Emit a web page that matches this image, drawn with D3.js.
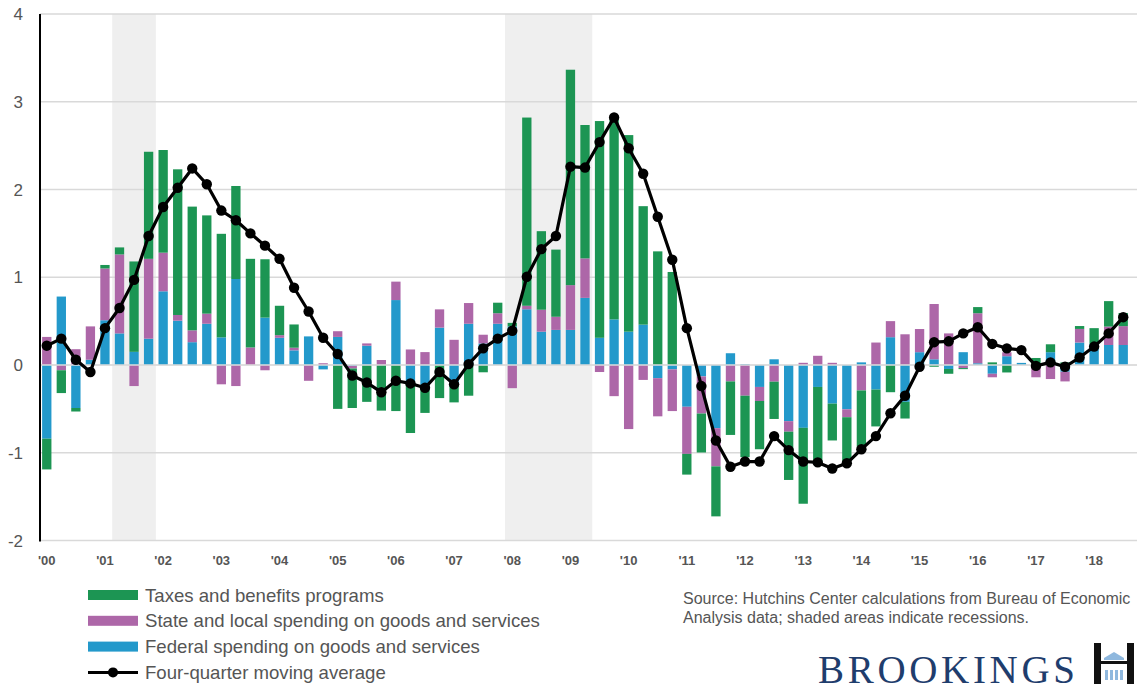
<!DOCTYPE html>
<meta charset="utf-8">
<style>
  body { margin: 0; background: #fff; }
  text { font-family: "Liberation Sans", Arial, sans-serif; }
</style>
<body>
<svg id="chart" width="1137" height="684"></svg>
</body>
<script src="https://d3js.org/d3.v7.min.js"></script>
<script>
// quarterly contributions, 2000Q1 .. 2018Q3
var years = d3.range(2000, 2019);
var quarters = [];
years.forEach(function(y){ [1,2,3,4].forEach(function(q){ if (!(y == 2018 && q == 4)) quarters.push(y + "Q" + q); }); });

var federal = [
  -0.84, 0.78, -0.49, 0.06,   0.51, 0.36, 0.15, 0.30,   0.84, 0.505, 0.26, 0.47,
  0.315, 0.98, 0.00, 0.54,    0.31, 0.167, 0.326, -0.05, 0.32, -0.01, 0.22, 0.00,
  0.74, -0.19, -0.226, 0.426, -0.20, 0.47, 0.245, 0.47,  0.44, 0.635, 0.38, 0.40,
  0.40, 0.765, 0.31, 0.52,    0.38, 0.46, -0.15, -0.05,  -0.476, -0.13, -0.72, 0.134,
  0.01, -0.25, 0.065, -0.64,  -0.716, -0.25, -0.44, -0.505, 0.03, -0.28, 0.317, -0.42,
  0.146, 0.065, -0.045, 0.146, 0.02, -0.10, 0.10, 0.024,  0.00, 0.146, -0.077, 0.256,
  0.24, 0.228, 0.228
];
var stateLocal = [
  0.32, -0.06, 0.18, 0.38,    0.59, 0.90, -0.24, 0.91,   0.44, 0.065, 0.135, 0.115,
  -0.22, -0.24, 0.20, -0.06,  0.03, 0.03, -0.18, 0.02,   0.065, -0.03, 0.026, 0.057,
  0.21, 0.177, 0.147, 0.208,  0.287, 0.236, 0.10, 0.12,  -0.264, 0.04, 0.25, 0.15,
  0.51, 0.45, -0.08, -0.355,  -0.73, -0.17, -0.435, -0.475, -0.537, -0.423, -0.435, -0.187,
  -0.35, -0.16, -0.19, -0.12, 0.025, 0.105, 0.025, -0.09, -0.29, 0.256, 0.183, 0.35,
  0.264, 0.63, 0.36, -0.035,  0.57, -0.04, 0.045, 0.00,  -0.14, -0.16, -0.11, 0.155,
  0.00, 0.21, 0.215
];
var taxes = [
  -0.35, -0.26, -0.04, 0.00,  0.04, 0.08, 1.03, 1.22,    1.17, 1.66, 1.41, 1.12,
  1.18, 1.06, 1.01, 0.665,    0.335, 0.265, 0.00, 0.00,  -0.50, -0.45, -0.42, -0.52,
  -0.525, -0.585, -0.32, -0.377, -0.226, -0.35, -0.083, 0.12, 0.04, 2.145, 0.895, 0.765,
  2.455, 1.52, 2.47, 2.28,    2.24, 1.35, 1.295, 1.06,   -0.236, -0.444, -0.57, -0.61,
  -0.70, -0.55, -0.425, -0.55, -0.865, -0.875, -0.42, -0.50, -0.64, -0.42, -0.31, -0.19,
  0.00, -0.02, -0.055, -0.012, 0.07, 0.03, -0.085, 0.00,  0.08, 0.09, 0.03, 0.033,
  0.18, 0.29, 0.15
];
var movingAvg = [
  0.22, 0.30, 0.06, -0.08,    0.42, 0.65, 0.97, 1.47,    1.80, 2.02, 2.24, 2.06,
  1.76, 1.65, 1.50, 1.36,     1.21, 0.88, 0.61, 0.31,    0.125, -0.12, -0.20, -0.31,
  -0.18, -0.21, -0.26, -0.08, -0.22, 0.01, 0.19, 0.30,   0.39, 1.005, 1.32, 1.47,
  2.26, 2.25, 2.54, 2.82,     2.47, 2.18, 1.69, 1.20,    0.42, -0.24, -0.86, -1.16,
  -1.10, -1.10, -0.81, -0.97, -1.10, -1.11, -1.18, -1.12, -0.96, -0.81, -0.55, -0.35,
  -0.02, 0.26, 0.27, 0.36,    0.43, 0.24, 0.19, 0.17,    -0.01, 0.03, -0.02, 0.085,
  0.21, 0.36, 0.545
];

// recessions as [first quarter, last quarter]
var recessions = [["2001Q2", "2001Q4"], ["2008Q1", "2009Q2"]];
var yTicks = [-2, -1, 0, 1, 2, 3, 4];

var seriesKeys = ["federal", "stateLocal", "taxes"];
var seriesNames = {
  taxes: "Taxes and benefits programs",
  stateLocal: "State and local spending on goods and services",
  federal: "Federal spending on goods and services"
};
var colors = { federal: "#2399cb", stateLocal: "#ad67a8", taxes: "#1c9553" };

var table = quarters.map(function(q, i){
  return { q: q, federal: federal[i], stateLocal: stateLocal[i], taxes: taxes[i], avg: movingAvg[i] };
});

var svg = d3.select("#chart");

var x = d3.scaleBand().domain(quarters).range([39.5, 1130.5]).paddingInner(0.36).paddingOuter(0.18),
    y = d3.scaleLinear().domain([-2, 4]).range([540.5, 14]);
var step = x.step();

// recession shading
svg.append("g").selectAll("rect").data(recessions).enter().append("rect")
  .attr("x", function(r){ return x(r[0]) - x.paddingOuter() * step; })
  .attr("width", function(r){ return x(r[1]) - x(r[0]) + step; })
  .attr("y", y(4))
  .attr("height", y(-2) - y(4))
  .attr("fill", "#efefef");

// gridlines
svg.append("g").selectAll("line").data(yTicks).enter().append("line")
  .attr("x1", 40).attr("x2", 1137)
  .attr("y1", function(d){ return y(d); })
  .attr("y2", function(d){ return y(d); })
  .attr("stroke", "#d9d9d9").attr("stroke-width", 1.5);

// stacked bars
var stacked = d3.stack().keys(seriesKeys).offset(d3.stackOffsetDiverging)(table);
svg.append("g").selectAll("g").data(stacked).enter().append("g")
  .attr("fill", function(s){ return colors[s.key]; })
  .selectAll("rect").data(function(s){ return s; }).enter().append("rect")
  .attr("x", function(d){ return x(d.data.q); })
  .attr("width", x.bandwidth())
  .attr("y", function(d){ return y(Math.max(d[0], d[1])); })
  .attr("height", function(d){ return Math.abs(y(d[0]) - y(d[1])); });

// zero line over the bars
svg.append("line")
  .attr("x1", 40).attr("x2", 1137).attr("y1", y(0)).attr("y2", y(0))
  .attr("stroke", "#dcdcdc").attr("stroke-width", 1.5);

// y axis
svg.append("line")
  .attr("x1", 40).attr("x2", 40).attr("y1", y(4)).attr("y2", y(-2) + 1)
  .attr("stroke", "#000").attr("stroke-width", 2);

svg.append("g").selectAll("text").data(yTicks).enter().append("text")
  .attr("x", 23).attr("y", function(d){ return y(d) + 6; })
  .attr("text-anchor", "end")
  .attr("font-size", 17).attr("fill", "#555")
  .text(function(d){ return d; });

// x labels at Q1 of each year
svg.append("g").selectAll("text").data(years).enter().append("text")
  .attr("x", function(d){ return x(d + "Q1") + x.bandwidth() / 2; })
  .attr("y", 565)
  .attr("text-anchor", "middle")
  .attr("font-size", 13).attr("font-weight", "bold").attr("fill", "#555")
  .text(function(d){ return "'" + String(d).slice(2); });

// moving average line
var line = d3.line()
  .x(function(d){ return x(d.q) + x.bandwidth() / 2; })
  .y(function(d){ return y(d.avg); });
svg.append("path").datum(table)
  .attr("d", line).attr("fill", "none")
  .attr("stroke", "#000").attr("stroke-width", 3.2).attr("stroke-linejoin", "round");
svg.append("g").selectAll("circle").data(table).enter().append("circle")
  .attr("cx", function(d){ return x(d.q) + x.bandwidth() / 2; })
  .attr("cy", function(d){ return y(d.avg); })
  .attr("r", 5.2).attr("fill", "#000");

// legend
var legendKeys = ["taxes", "stateLocal", "federal"];
var legend = svg.append("g");
legendKeys.forEach(function(k, i){
  var ly = 595 + i * 25.8;
  legend.append("rect").attr("x", 88).attr("y", ly - 5).attr("width", 50).attr("height", 10).attr("fill", colors[k]);
  legend.append("text").attr("x", 145).attr("y", ly + 6.5).attr("font-size", 18.6).attr("fill", "#555").text(seriesNames[k]);
});
var ly4 = 595 + 3 * 25.8;
legend.append("line").attr("x1", 88).attr("x2", 138).attr("y1", ly4).attr("y2", ly4).attr("stroke", "#000").attr("stroke-width", 3);
legend.append("circle").attr("cx", 113).attr("cy", ly4).attr("r", 5).attr("fill", "#000");
legend.append("text").attr("x", 145).attr("y", ly4 + 6.5).attr("font-size", 18.6).attr("fill", "#555").text("Four-quarter moving average");

// source note
svg.append("text").attr("x", 683).attr("y", 604).attr("font-size", 16).attr("fill", "#555")
  .text("Source: Hutchins Center calculations from Bureau of Economic");
svg.append("text").attr("x", 683).attr("y", 623).attr("font-size", 16).attr("fill", "#555")
  .text("Analysis data; shaded areas indicate recessions.");

// Brookings wordmark
svg.append("text").attr("x", 818).attr("y", 683)
  .style("font-family", "'Liberation Serif', 'DejaVu Serif', serif")
  .attr("font-size", 39).attr("fill", "#1f3d6d")
  .attr("textLength", 257).attr("lengthAdjust", "spacing")
  .text("BROOKINGS");
var logo = svg.append("g");
logo.append("rect").attr("x", 1094).attr("y", 643).attr("width", 7).attr("height", 41).attr("fill", "#111");
logo.append("rect").attr("x", 1127).attr("y", 643).attr("width", 7).attr("height", 41).attr("fill", "#111");
logo.append("rect").attr("x", 1101).attr("y", 661).attr("width", 26).attr("height", 3).attr("fill", "#111");
logo.append("path").attr("d", "M1104,658 L1114,652 L1124,658 Z").attr("fill", "#8fb8de");
logo.append("rect").attr("x", 1104).attr("y", 658).attr("width", 20).attr("height", 2).attr("fill", "#8fb8de");
[1105, 1110, 1115, 1120].forEach(function(cx){
  logo.append("rect").attr("x", cx).attr("y", 670).attr("width", 3).attr("height", 10).attr("fill", "#8fb8de");
});
</script>
